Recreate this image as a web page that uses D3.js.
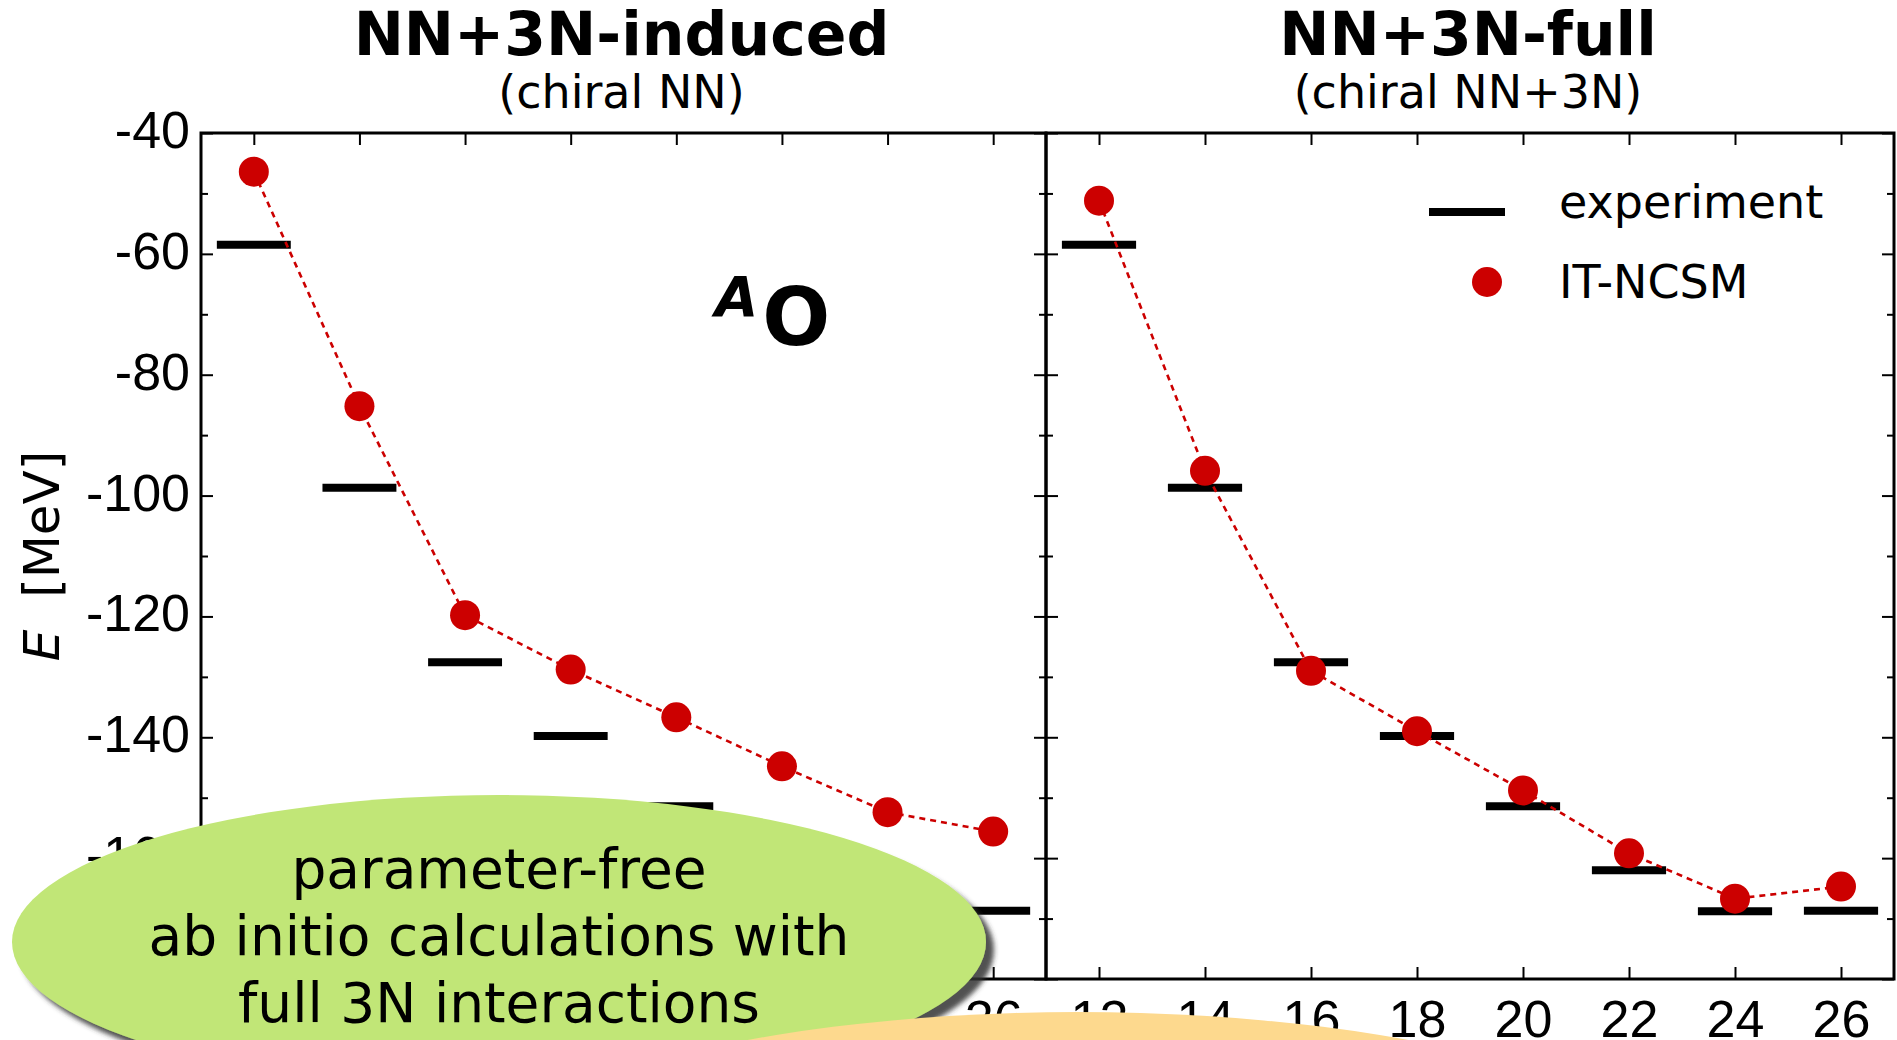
<!DOCTYPE html>
<html>
<head>
<meta charset="utf-8">
<title>Oxygen ground-state energies</title>
<script src="https://d3js.org/d3.v7.min.js"></script>
<style>
  body { margin: 0; background: #fff; }
  svg { display: block; font-family: "DejaVu Sans", sans-serif; }
  .tick line { stroke: #000; stroke-width: 2; }
  .tick text { fill: #000; }
</style>
</head>
<body>
<svg id="chart" width="1897" height="1040"></svg>
<script>
// mass number A of the oxygen isotopes
var massNumbers = [12, 14, 16, 18, 20, 22, 24, 26];
// experimental ground-state energies [MeV]
var experiment = [-58.5, -98.7, -127.6, -139.8, -151.4, -162.0, -168.8, -168.7];
// IT-NCSM, NN+3N-induced (chiral NN)
var ncsmInduced = [-46.4, -85.2, -119.8, -128.8, -136.7, -144.8, -152.4, -155.6];
// IT-NCSM, NN+3N-full (chiral NN+3N)
var ncsmFull = [-51.2, -95.9, -129.0, -139.0, -148.8, -159.2, -166.7, -164.7];

var yMajorTicks = [-40, -60, -80, -100, -120, -140, -160, -180];
var yMinorTicks = [-50, -70, -90, -110, -130, -150, -170];
var xTicks = [12, 14, 16, 18, 20, 22, 24, 26];

var panels = [
    {title: "NN+3N-induced", sub: "(chiral NN)", values: ncsmInduced, left: 201, right: 1046, labels: true, legend: false},
    {title: "NN+3N-full", sub: "(chiral NN+3N)", values: ncsmFull, left: 1046, right: 1894, labels: false, legend: true}
];

var svg = d3.select("#chart");
var plotTop = 133, plotBottom = 979;
var red = "#cc0000";

var y = d3.scaleLinear().domain([-180, -40]).range([plotBottom, plotTop]);

panels.forEach(function(p) {
    var x = d3.scaleLinear().domain([11, 27]).range([p.left, p.right]);
    var g = svg.append("g");
    var pts = massNumbers.map(function(a, i) { return {a: a, e: p.values[i], exp: experiment[i]}; });

    // ticks, pointing inward on all four sides
    var yl = g.append("g").attr("transform", "translate(" + p.left + ",0)")
        .call(d3.axisLeft(y).tickValues(yMajorTicks).tickSize(-12).tickPadding(11)
            .tickFormat(p.labels ? d3.format("d") : ""));
    yl.selectAll("text").style("font-size", "52px").attr("dy", null).attr("y", 14.5)
        .text(function(d) { return p.labels ? String(d) : ""; });
    g.append("g").attr("transform", "translate(" + p.left + ",0)")
        .call(d3.axisLeft(y).tickValues(yMinorTicks).tickSize(-7).tickFormat(""));
    g.append("g").attr("transform", "translate(" + p.right + ",0)")
        .call(d3.axisRight(y).tickValues(yMajorTicks).tickSize(-12).tickFormat(""));
    g.append("g").attr("transform", "translate(" + p.right + ",0)")
        .call(d3.axisRight(y).tickValues(yMinorTicks).tickSize(-7).tickFormat(""));

    var xb = g.append("g").attr("transform", "translate(0," + plotBottom + ")")
        .call(d3.axisBottom(x).tickValues(xTicks).tickSize(-12).tickFormat(d3.format("d")));
    xb.selectAll("text").style("font-size", "52px").attr("dy", null).attr("y", 58);
    g.append("g").attr("transform", "translate(0," + plotTop + ")")
        .call(d3.axisTop(x).tickValues(xTicks).tickSize(-12).tickFormat(""));
    g.selectAll(".domain").remove();

    g.append("rect")
        .attr("x", p.left).attr("y", plotTop)
        .attr("width", p.right - p.left).attr("height", plotBottom - plotTop)
        .attr("fill", "none").attr("stroke", "#000").attr("stroke-width", 3);

    // experiment bars
    g.selectAll(".exp").data(pts).enter().append("line")
        .attr("x1", function(d) { return x(d.a - 0.7); })
        .attr("x2", function(d) { return x(d.a + 0.7); })
        .attr("y1", function(d) { return y(d.exp); })
        .attr("y2", function(d) { return y(d.exp); })
        .attr("stroke", "#000").attr("stroke-width", 8);

    // IT-NCSM
    var line = d3.line().x(function(d) { return x(d.a); }).y(function(d) { return y(d.e); });
    g.append("path").datum(pts).attr("d", line)
        .attr("fill", "none").attr("stroke", red)
        .attr("stroke-width", 2.6).attr("stroke-dasharray", "6,5");
    g.selectAll(".pt").data(pts).enter().append("circle")
        .attr("cx", function(d) { return x(d.a); })
        .attr("cy", function(d) { return y(d.e); })
        .attr("r", 15).attr("fill", red);

    // titles
    var cx = (p.left + p.right) / 2 - 2;
    svg.append("text").attr("x", cx).attr("y", 55).attr("text-anchor", "middle")
        .style("font-size", "60px").style("font-weight", "bold").text(p.title);
    svg.append("text").attr("x", cx).attr("y", 108).attr("text-anchor", "middle")
        .style("font-size", "46px").text(p.sub);

    if (p.legend) {
        svg.append("line").attr("x1", 1429).attr("x2", 1505).attr("y1", 212).attr("y2", 212)
            .attr("stroke", "#000").attr("stroke-width", 8);
        svg.append("text").attr("x", 1559).attr("y", 218).style("font-size", "46px").text("experiment");
        svg.append("circle").attr("cx", 1487).attr("cy", 282).attr("r", 15).attr("fill", red);
        svg.append("text").attr("x", 1559).attr("y", 298).style("font-size", "46px").text("IT-NCSM");
    }
});

// ^A O label
var ao = svg.append("text").attr("x", 715).attr("y", 345).style("font-weight", "bold");
ao.append("tspan").attr("dy", -29).style("font-size", "56px").style("font-style", "italic").text("A");
ao.append("tspan").attr("dy", 29).attr("dx", 4).style("font-size", "80px").text("O");

// y axis label
var ylab = svg.append("text").attr("transform", "translate(59,556) rotate(-90)")
    .attr("text-anchor", "middle").style("font-size", "50px");
ylab.append("tspan").style("font-style", "italic").text("E");
ylab.append("tspan").text("\u00a0 [MeV]");

// overlaid callouts
var defs = svg.append("defs");
var f = defs.append("filter").attr("id", "shadow").attr("x", "-10%").attr("y", "-10%")
    .attr("width", "130%").attr("height", "140%");
f.append("feDropShadow").attr("dx", 8).attr("dy", 8).attr("stdDeviation", 2.5)
    .attr("flood-color", "#333").attr("flood-opacity", 0.85);

svg.append("ellipse").attr("cx", 499).attr("cy", 942).attr("rx", 487).attr("ry", 147)
    .attr("fill", "#c1e677").attr("filter", "url(#shadow)");
var callout = ["parameter-free", "ab initio calculations with", "full 3N interactions"];
svg.selectAll(".callout").data(callout).enter().append("text")
    .attr("x", 499).attr("y", function(d, i) { return 888 + i * 67; })
    .attr("text-anchor", "middle").style("font-size", "55px").text(function(d) { return d; });

svg.append("ellipse").attr("cx", 1078).attr("cy", 1207).attr("rx", 640).attr("ry", 195)
    .attr("fill", "#fdd98e");
</script>
</body>
</html>
